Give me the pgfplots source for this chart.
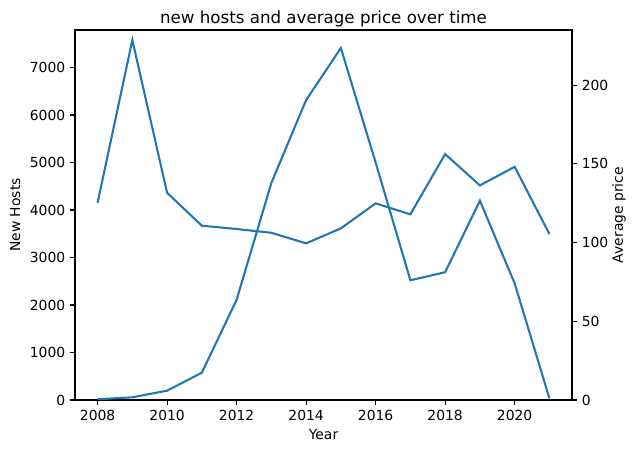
\documentclass[border=0pt]{standalone}
\usepackage{pgfplots}
\pgfplotsset{compat=1.18}
\usepackage{fontspec}
\setmainfont{DejaVu Sans}
\definecolor{mplblue}{HTML}{1F77B4}

% one reference pixel = 0.72pt
\pgfplotsset{
  mplbase/.style={
    scale only axis,
    width=357.84pt, height=266.4pt,
    xmin=2007.35, xmax=2021.65,
    tick align=outside,
    major tick length=3.5pt,
    minor tick num=0,
    scaled y ticks=false,
    /pgf/number format/1000 sep={},
    /pgf/number format/assume math mode=true,
    axis line style={line width=0.8pt},
    every tick/.style={black, line width=0.8pt},
    tick label style={font=\fontsize{10}{12}\selectfont},
    label style={font=\fontsize{10}{12}\selectfont},
  },
}

\begin{document}
\begin{tikzpicture}
\useasboundingbox (-54pt,-38.16pt) rectangle (403.92pt,288pt);

\begin{axis}[
  mplbase,
  ymin=0, ymax=7790,
  xtick={2008,2010,...,2020},
  ytick={0,1000,...,7000},
  xtick pos=bottom, ytick pos=left,
  xlabel={Year}, ylabel={New Hosts},
  title={new hosts and average price over time},
  title style={font=\fontsize{12}{14}\selectfont, yshift=-7pt},
]
\addplot[mplblue, line width=1.5pt] coordinates {
  (2008,15)(2009,57)(2010,196)(2011,575)(2012,2110)(2013,4570)(2014,6316)
  (2015,7410)(2016,5000)(2017,2520)(2018,2690)(2019,4196)(2020,2456)(2021,35)
};
\end{axis}

\begin{axis}[
  mplbase,
  ymin=0, ymax=235,
  axis x line=none,
  axis y line*=right,
  ytick={0,50,...,200},
  ylabel={Average price},
  ylabel shift={-4pt},
]
\addplot[mplblue, line width=1.5pt] coordinates {
  (2008,125.3)(2009,228.6)(2010,131.6)(2011,110.7)(2012,108.6)(2013,106.2)(2014,99.5)
  (2015,109)(2016,124.9)(2017,117.9)(2018,156.2)(2019,136.3)(2020,148.1)(2021,105.4)
};
\end{axis}
\end{tikzpicture}
\end{document}
